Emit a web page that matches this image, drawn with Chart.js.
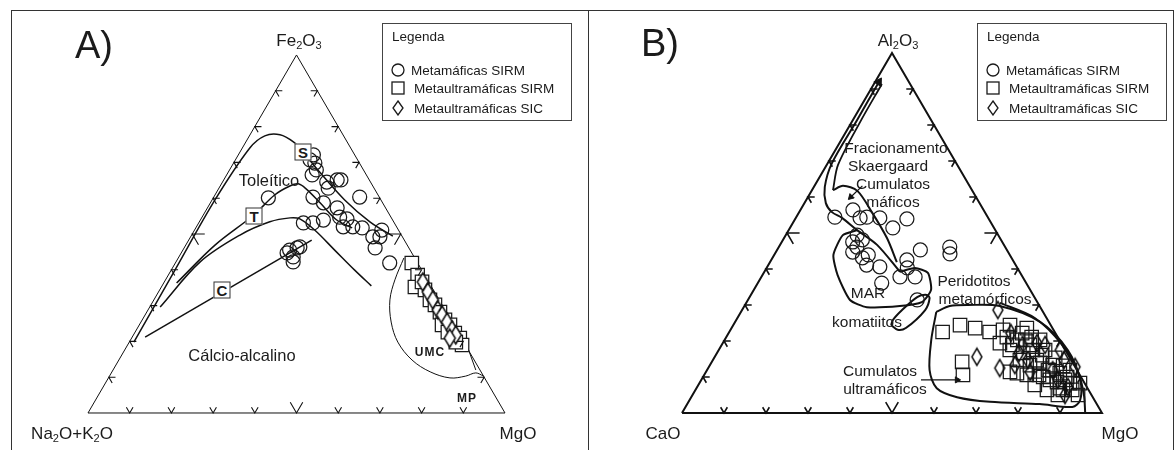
<!DOCTYPE html>
<html>
<head>
<meta charset="utf-8">
<script src="https://cdn.jsdelivr.net/npm/chart.js@4.4.1/dist/chart.umd.min.js"></script>
<style>
  body { margin: 0; background: #fff; }
  #page { position: relative; width: 1176px; height: 450px; overflow: hidden; font-family: "Liberation Sans", Arial, sans-serif; color: #1b1b1b; }
  .frame { position: absolute; top: 10px; height: 470px; border: 1.5px solid #333; box-sizing: border-box; }
  canvas { position: absolute; top: 0; }
  .lbl { position: absolute; transform: translate(-50%, -50%); white-space: nowrap; line-height: 1; }
  .big { font-size: 38px; }
  .ax { font-size: 17px; }
  .fa { font-size: 16.5px; }
  .fb { font-size: 15.5px; }
  .tiny { font-size: 12px; font-weight: bold; letter-spacing: 1px; }
  .box { position: absolute; width: 15px; height: 15px; border: 1.5px solid #333; background: #fff; font-weight: bold; font-size: 15px; text-align: center; line-height: 15px; transform: translate(-50%, -50%); }
  .legend { position: absolute; top: 23px; width: 190px; height: 98px; border: 1.5px solid #444; box-sizing: border-box; font-size: 13.5px; }
  .legend span, .legend svg { position: absolute; transform: translateY(-50%); white-space: nowrap; }
  sub { font-size: 0.65em; vertical-align: -0.3em; line-height: 0; }
</style>
</head>
<body>
<div id="page">
  <div class="frame" style="left:11px; width:578px;"></div>
  <div class="frame" style="left:588px; width:586px;"></div>

  <canvas id="chartA" width="588" height="450" style="left:0"></canvas>
  <canvas id="chartB" width="588" height="450" style="left:588px"></canvas>

  <!-- A) labels -->
  <div class="lbl big" style="left:94px; top:45px;">A)</div>
  <div class="lbl ax" style="left:299px; top:40px;">Fe<sub>2</sub>O<sub>3</sub></div>
  <div class="lbl ax" style="left:72px; top:433px;">Na<sub>2</sub>O+K<sub>2</sub>O</div>
  <div class="lbl ax" style="left:518px; top:433px;">MgO</div>
  <div class="lbl fa" style="left:269px; top:180px;">Toleítico</div>
  <div class="lbl fa" style="left:242px; top:355px;">Cálcio-alcalino</div>
  <div class="lbl tiny" style="left:430px; top:352px;">UMC</div>
  <div class="lbl tiny" style="left:467px; top:398px;">MP</div>
  <div class="box" style="left:303px; top:152px;">S</div>
  <div class="box" style="left:254px; top:216px;">T</div>
  <div class="box" style="left:222px; top:290px;">C</div>

  <!-- B) labels -->
  <div class="lbl big" style="left:660px; top:43px;">B)</div>
  <div class="lbl ax" style="left:898px; top:40px;">Al<sub>2</sub>O<sub>3</sub></div>
  <div class="lbl ax" style="left:663px; top:433px;">CaO</div>
  <div class="lbl ax" style="left:1120px; top:433px;">MgO</div>
  <div class="lbl fb" style="left:896px; top:148px;">Fracionamento</div>
  <div class="lbl fb" style="left:888px; top:166px;">Skaergaard</div>
  <div class="lbl fb" style="left:893px; top:184px;">Cumulatos</div>
  <div class="lbl fb" style="left:893px; top:202px;">máficos</div>
  <div class="lbl fb" style="left:868px; top:293px;">MAR</div>
  <div class="lbl fb" style="left:867px; top:322px;">komatiitos</div>
  <div class="lbl fb" style="left:974px; top:281px;">Peridotitos</div>
  <div class="lbl fb" style="left:985px; top:299px;">metamórficos</div>
  <div class="lbl fb" style="left:880px; top:371px;">Cumulatos</div>
  <div class="lbl fb" style="left:885px; top:389px;">ultramáficos</div>

  <div class="legend" id="legA" style="left:382px;"></div>
  <div class="legend" id="legB" style="left:977px;"></div>
</div>

<script>
// ---------- shared ----------
const H = Math.sqrt(3) / 2;
const tickPos = [10, 20, 30, 40, 50, 60, 70, 80, 90];
const edgeTop = [0, 0, 100, 0];
const edgeRight = [0, 100, 0, 0];
const legendNames = ['Metamáficas SIRM', 'Metaultramáficas SIRM', 'Metaultramáficas SIC'];

// ---------- A) AFM: Fe2O3 (top), MgO (right); Na2O+K2O is the rest ----------
const circFeA = [72.1, 69.8, 66.5, 64.5, 65.1, 65.1, 62.8, 60.3, 60.3, 60.1, 58.7, 57.3, 54.7, 54.2, 52.0, 53.1, 53.1,
  53.9, 52.0, 51.7, 49.2, 51.1, 46.1, 49.2, 41.9, 45.5, 43.6, 44.7, 46.1, 42.2, 46.4, 70.7, 67.9];
const circMgA = [18.0, 19.5, 20.5, 25.0, 27.2, 28.1, 26.2, 23.8, 35.0, 13.2, 27.1, 31.1, 33.0, 35.0, 35.2, 25.1, 27.4,
  29.5, 37.5, 39.9, 43.7, 44.9, 45.8, 45.4, 51.4, 25.6, 27.4, 25.4, 27.1, 28.1, 27.6, 17.9, 20.8];
const sqFeA = [41.9, 38.5, 35.2, 34.4, 31.6, 30.2, 28.2, 26.0, 24.6, 22.3, 20.9, 19.0, 19.8, 36.6, 24.6, 22.6];
const sqMgA = [56.7, 59.8, 60.8, 63.6, 66.2, 68.1, 70.3, 72.6, 74.5, 76.8, 78.7, 80.2, 78.3, 61.8, 72.6, 75.0];
const diaFeA = [36.6, 33.8, 31.6, 28.8, 27.4, 25.4, 23.2, 21.8, 20.9];
const diaMgA = [62.0, 64.6, 66.9, 69.5, 71.2, 73.4, 75.7, 77.3, 76.3];

// trends S (Skaergaard), T (Thingmuli), C (Cascade) and the tholeiitic / calc-alkaline divide
const sFe = [19.8, 39.9, 59.5, 74.0, 77.4, 77.7, 75.7, 72.9, 67.3, 59.5, 53.4, 49.4];
const sMg = [1.1, 0.9, 0.7, 1.8, 3.7, 7.2, 11.4, 15.1, 21.9, 31.8, 40.9, 48.4];
const tFe = [36.3, 46.9, 55.3, 60.9, 63.4, 64.0, 62.6, 58.7, 53.9, 51.7];
const tMg = [3.1, 7.0, 12.1, 14.3, 16.7, 18.4, 21.0, 26.3, 32.7, 37.5];
const divFe = [29.6, 42.2, 49.7, 53.4, 54.5, 54.2, 51.1, 45.5, 39.9, 35.5];
const divMg = [2.5, 5.8, 11.6, 16.9, 21.2, 23.7, 28.8, 36.4, 44.0, 50.2];
const cFe = [21.2, 48.3];
const cMg = [3.1, 29.5];
const umcFe = [43.3, 37.2, 31.6, 25.4, 19.8, 14.8, 11.5, 9.8, 10.3, 11.2, 10.3];
const umcMg = [54.1, 55.0, 56.6, 60.0, 64.4, 70.3, 76.3, 81.9, 85.4, 87.4, 89.7];
const umcSideFe = [20.4, 12.0];
const umcSideMg = [80.2, 87.0];

// ---------- B) Al2O3 (top), MgO (right); CaO is the rest ----------
const circAlB = [54.4, 56.4, 54.2, 54.4, 54.2, 53.9, 51.4, 47.5, 48.1, 46.1, 44.7, 43.9, 41.1, 40.6, 42.5, 45.3, 40.3,
  37.8, 37.8, 36.1, 31.4, 46.1, 44.2, 49.4, 43.1];
const circMgB = [9.2, 12.5, 15.3, 16.8, 20.0, 26.6, 24.5, 16.9, 18.9, 18.6, 18.3, 22.4, 23.4, 26.8, 32.3, 34.1, 33.5,
  33.0, 36.6, 29.5, 40.3, 40.7, 41.7, 17.0, 21.4];
const sqAlB = [22.5, 24.4, 23.6, 22.5, 23.1, 24.4, 23.6, 20.3, 19.4, 17.5, 16.7, 17.5, 14.2, 10.6, 11.4, 11.1, 10.6,
  13.9, 11.9, 11.1, 10.0, 8.6, 6.9, 9.2, 8.3, 8.3, 22.2, 21.1, 14.7, 10.0, 13.3, 6.4, 21.1, 10.6,
  18.9, 17.5, 20.3, 15.3, 11.9, 9.2, 6.4, 5.0, 6.4, 13.3, 14.7, 18.9, 20.3, 7.8, 11.9, 5.0, 13.1, 16.1];
const sqMgB = [50.8, 54.0, 58.0, 62.0, 64.9, 65.9, 70.3, 69.7, 66.0, 69.3, 72.9, 74.8, 59.6, 61.6, 72.4, 74.2, 76.8,
  78.3, 81.6, 84.4, 86.7, 85.0, 86.5, 83.0, 88.2, 90.6, 69.9, 66.8, 77.1, 81.0, 81.6, 87.5, 72.7, 79.7,
  73.4, 77.7, 75.1, 81.2, 81.2, 86.6, 89.7, 87.0, 83.7, 76.2, 73.1, 69.2, 71.6, 80.1, 86.4, 91.8, 84.2, 77.7];
const diaAlB = [28.6, 15.6, 12.5, 22.2, 16.7, 14.7, 19.4, 11.9, 14.7, 12.8, 9.2, 7.2, 18.9, 18.9, 17.5, 11.4, 5.0, 13.3];
const diaMgB = [60.9, 62.4, 69.4, 67.2, 71.9, 75.0, 74.8, 82.3, 83.6, 87.2, 84.9, 88.3, 71.6, 77.0, 81.3, 77.2, 88.7, 72.6];

const skgAl = [39.2, 46.7, 50.8, 54.2, 55.8, 58.3, 62.8, 69.4, 81.4, 91.9];
const skgMg = [32.3, 23.1, 16.3, 11.0, 7.8, 5.1, 2.6, 1.0, 1.0, 0.9];
const skg2Al = [61.9, 68.9, 80.8, 91.4];
const skg2Mg = [5.0, 2.7, 2.0, 1.9];
const cmafAl = [61.9, 63.1, 61.7, 55.8, 48.6, 41.9];
const cmafMg = [5.0, 6.8, 10.9, 17.3, 24.5, 30.2];
const marAl = [50.8, 49.4, 43.9, 38.3, 31.4, 29.4, 29.7, 30.8, 34.2, 38.9, 40.3, 39.2];
const marMg = [16.3, 13.6, 14.1, 17.9, 24.3, 29.3, 37.0, 41.7, 42.2, 39.1, 35.3, 32.3];
const komAl = [24.4, 23.1, 23.6, 28.6, 31.9, 32.8, 32.2, 28.6, 25.8, 24.4];
const komMg = [37.6, 39.8, 41.5, 43.6, 43.0, 41.9, 39.9, 38.1, 37.3, 37.6];
const cultAl = [28.1, 29.7, 30.0, 29.7, 25.3, 17.5, 9.2, 3.6, 1.7, 2.5, 3.1, 4.4, 6.9, 11.9, 20.3, 28.1];
const cultMg = [46.5, 48.9, 53.1, 60.8, 72.6, 83.1, 90.2, 93.0, 92.1, 83.9, 71.8, 63.3, 57.2, 53.0, 49.2, 46.5];
const peridAl = [30.6, 26.4, 18.9, 11.4, 5.0, 0];
const peridMg = [60.4, 70.8, 81.1, 88.6, 93.2, 96.0];
const arrUltAl = [9.2, 9.2];
const arrUltMg = [52.3, 60.9];
const arrMafAl = [63.1, 60.0];
const arrMafMg = [11.4, 10.2];

// ternary (top, right) -> cartesian
const xy = (top, right) => top.map((t, i) => ({ x: right[i] + t / 2, y: t * H }));

function curve(top, right, width, tension) {
  return { data: xy(top, right), showLine: true, pointRadius: 0, borderColor: '#111', borderWidth: width,
    tension: tension || 0, fill: false, order: 2 };
}

function marks(top, right, style, radius, fill) {
  return { data: xy(top, right), showLine: false, pointStyle: style, pointRadius: radius,
    pointBorderColor: '#1a1a1a', pointBackgroundColor: fill, pointBorderWidth: 1.25, order: 0 };
}

function head(top, right, rot, r) {
  return { data: xy(top, right).slice(-1), showLine: false, pointStyle: 'triangle', pointRadius: r,
    pointRotation: rot, pointBackgroundColor: '#111', pointBorderColor: '#111', pointBorderWidth: 1, order: 1 };
}

// tall diamond used as point style
function lozenge(w, h, fill) {
  const c = document.createElement('canvas');
  c.width = w + 4; c.height = h + 4;
  const g = c.getContext('2d');
  g.beginPath();
  g.moveTo(c.width / 2, 2); g.lineTo(c.width - 2, c.height / 2);
  g.lineTo(c.width / 2, c.height - 2); g.lineTo(2, c.height / 2); g.closePath();
  if (fill) { g.fillStyle = fill; g.fill(); }
  g.lineWidth = 1.5; g.strokeStyle = '#111'; g.stroke();
  return c;
}

// small chevron ticks every 10 % on all three sides
const ternTicks = {
  id: 'ternTicks',
  afterDatasetsDraw(chart, args, o) {
    const xs = chart.scales.x, ys = chart.scales.y, ctx = chart.ctx;
    const p = (t, r) => [xs.getPixelForValue(r + t / 2), ys.getPixelForValue(t * H)];
    const chev = (a, b, c) => { ctx.moveTo(a[0], a[1]); ctx.lineTo(b[0], b[1]); ctx.lineTo(c[0], c[1]); };
    ctx.save();
    ctx.strokeStyle = '#111';
    ctx.lineWidth = o.width;
    ctx.beginPath();
    tickPos.forEach(k => {
      const d = k === 50 ? o.large : o.small;
      chev(p(d, k), p(0, k), p(d, k - d));
      chev(p(k, d), p(k, 0), p(k - d, d));
      chev(p(k, 100 - k - d), p(k, 100 - k), p(k - d, 100 - k));
    });
    ctx.stroke();
    ctx.restore();
  }
};

function options(xr, yr, tick) {
  return {
    responsive: false, animation: false, events: [],
    layout: { padding: 0, autoPadding: false },
    plugins: { legend: { display: false }, tooltip: { enabled: false }, ternTicks: tick },
    scales: {
      x: { type: 'linear', display: false, min: xr[0], max: xr[1] },
      y: { type: 'linear', display: false, min: yr[0], max: yr[1] }
    }
  };
}

new Chart(document.getElementById('chartA'), {
  type: 'scatter',
  data: {
    datasets: [
      marks(circFeA, circMgA, 'circle', 7, 'rgba(0,0,0,0)'),
      marks(diaFeA, diaMgA, lozenge(11, 18, '#fff'), 8, '#fff'),
      marks(sqFeA, sqMgA, 'rect', 9.5, '#fff'),
      curve(edgeTop, edgeRight, 1),
      curve(sFe, sMg, 1.5, 0.35),
      curve(tFe, tMg, 1.5, 0.35),
      curve(divFe, divMg, 1.5, 0.35),
      curve(cFe, cMg, 1.5),
      curve(umcFe, umcMg, 1, 0.35),
      curve(umcSideFe, umcSideMg, 1)
    ]
  },
  options: options([-21.10, 119.90], [-8.95, 99.90], { width: 1.1, small: 1.6, large: 3 }),
  plugins: [ternTicks]
});

new Chart(document.getElementById('chartB'), {
  type: 'scatter',
  data: {
    datasets: [
      marks(circAlB, circMgB, 'circle', 7, 'rgba(0,0,0,0)'),
      marks(diaAlB, diaMgB, lozenge(10, 17, null), 8, 'rgba(0,0,0,0)'),
      marks(sqAlB, sqMgB, 'rect', 9.5, 'rgba(0,0,0,0)'),
      head(skgAl, skgMg, 32, 5),
      head(arrUltAl, arrUltMg, 90, 3.5),
      head(arrMafAl, arrMafMg, 225, 3.5),
      curve(edgeTop, edgeRight, 2),
      curve(skgAl, skgMg, 2, 0.3),
      curve(skg2Al, skg2Mg, 1.8, 0.3),
      curve(cmafAl, cmafMg, 2, 0.3),
      curve(marAl, marMg, 2, 0.2),
      curve(komAl, komMg, 2, 0.3),
      curve(cultAl, cultMg, 2, 0.3),
      curve(peridAl, peridMg, 2, 0.3),
      curve(arrUltAl, arrUltMg, 1.2),
      curve(arrMafAl, arrMafMg, 1.2)
    ]
  },
  options: options([-22.38, 117.62], [-8.90, 99.35], { width: 1.6, small: 1.6, large: 3 }),
  plugins: [ternTicks]
});

// legend boxes (HTML text, svg markers)
function buildLegend(id) {
  const el = document.getElementById(id);
  const marker = [
    '<circle cx="8" cy="8" r="6" fill="none" stroke="#1a1a1a" stroke-width="1.3"/>',
    '<rect x="2" y="2" width="12" height="12" fill="none" stroke="#1a1a1a" stroke-width="1.3"/>',
    '<path d="M8 1 L13 8 L8 15 L3 8 Z" fill="none" stroke="#1a1a1a" stroke-width="1.3"/>'
  ];
  const textLeft = [28, 31, 31];
  const rowY = [46, 64, 84];
  let html = '<span style="left:9px; top:12px;">Legenda</span>';
  legendNames.forEach((name, i) => {
    html += '<svg width="16" height="16" style="left:7px; top:' + rowY[i] + 'px;">' + marker[i] + '</svg>';
    html += '<span style="left:' + textLeft[i] + 'px; top:' + rowY[i] + 'px;">' + name + '</span>';
  });
  el.innerHTML = html;
}
buildLegend('legA');
buildLegend('legB');
</script>
</body>
</html>
